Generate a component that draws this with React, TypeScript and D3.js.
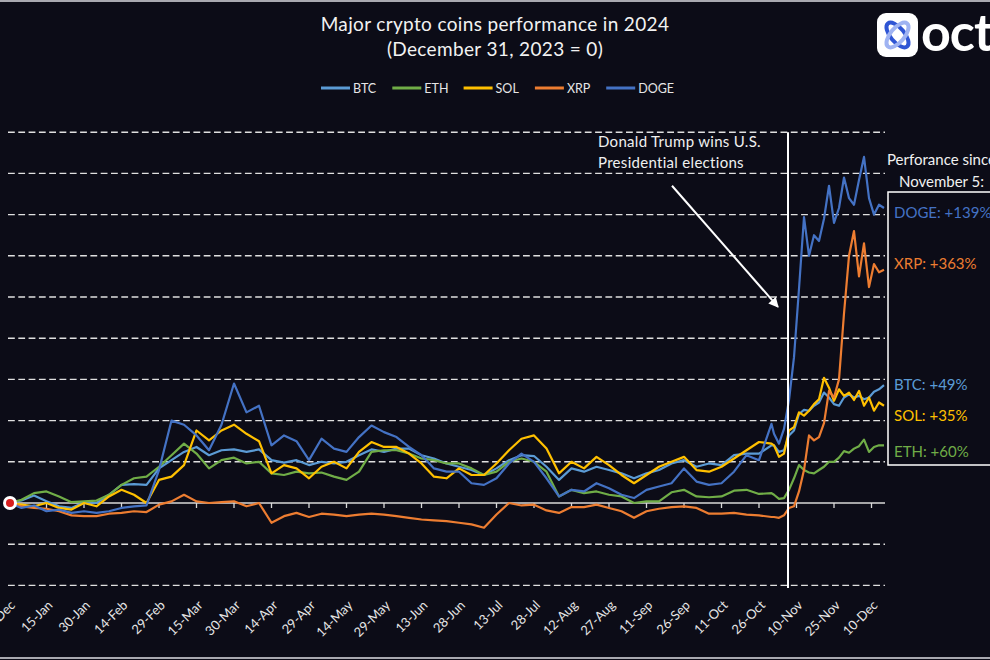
import React from "react";
import * as d3 from "d3";

const W = 990;
const H = 660;
const BG = "#0c0c17";
const FONT = "Lato, 'Open Sans', 'DejaVu Sans', sans-serif";

// day offsets from December 31, 2023
const dayOffsets = [
  0, 5, 10, 15, 20, 25, 30, 35, 40, 45, 50, 55, 60, 65, 70, 75, 80, 85, 90, 95,
  100, 105, 110, 115, 120, 125, 130, 135, 140, 145, 150, 155, 160, 165, 170, 175, 180, 185, 190, 195,
  200, 205, 210, 215, 220, 225, 230, 235, 240, 245, 250, 255, 260, 265, 270, 275, 280, 285, 290, 295,
  300, 305,
  306, 308, 310, 312, 314, 316, 318, 320, 322, 324, 326, 328, 330, 332, 334, 336, 338, 340, 342, 344,
  346, 348, 350,
];

// performance in % vs Dec 31, 2023
const btc = [
  0, 3, 9, 2, -4, -6, 1, 0, 10, 22, 23, 22, 42, 52, 62, 68, 58, 64, 65, 62,
  65, 52, 49, 52, 46, 50, 48, 50, 58, 65, 62, 66, 66, 58, 54, 48, 44, 40, 34, 42,
  52, 58, 57, 44, 28, 42, 38, 44, 40, 36, 30, 36, 40, 48, 52, 44, 48, 46, 58, 60,
  60, 70,
  70, 62, 64, 82, 88, 108, 113, 112, 118, 122, 134, 128, 120, 118, 128, 132, 128, 130, 126, 128,
  135, 138, 143,
];
const eth = [
  0, 4, 12, 14, 8, 1, 2, 3, 10, 22, 30, 32, 44, 58, 72, 60, 42, 52, 55, 48,
  50, 36, 34, 38, 36, 37, 32, 28, 38, 62, 64, 64, 60, 54, 52, 48, 48, 42, 34, 38,
  50, 54, 50, 38, 8, 16, 12, 14, 10, 8, 0, 2, 2, 13, 16, 8, 7, 8, 15, 16,
  11, 12,
  10, 5, 6, 16, 30, 46, 40, 37, 36, 40, 44, 50, 50, 55, 63, 61, 66, 69, 77, 62,
  68, 70, 70,
];
const sol = [
  0, -2, -4, 0, -6, -8, 0, -4, 8, 16, 10, 0, 28, 32, 46, 88, 76, 88, 95, 84,
  75, 36, 46, 42, 30, 44, 50, 42, 62, 74, 68, 68, 60, 48, 32, 30, 42, 34, 34, 48,
  64, 78, 82, 66, 36, 50, 42, 56, 46, 34, 24, 34, 44, 50, 56, 40, 38, 44, 54, 64,
  74, 72,
  70, 56, 60, 88, 92, 110, 106, 112, 120, 126, 152, 140, 124, 138, 130, 134, 125, 136, 118, 128,
  112, 122, 118,
];
const xrp = [
  0, -4, -6, -7, -10, -15, -16, -16, -13, -12, -10, -11, -2, 2, 10, 2, 0, 1, 2, -4,
  0, -24, -16, -12, -17, -13, -14, -16, -14, -13, -14, -16, -18, -20, -21, -22, -24, -26, -30, -14,
  0, -3, -2, -9, -12, -5, -5, -2, -6, -10, -18, -10, -7, -5, -4, -6, -13, -13, -12, -14,
  -15, -17,
  -17, -18, -15, -6, -4, 14, 40, 82, 76, 80, 97, 136, 128, 150, 230, 300, 330, 275, 315, 262,
  290, 280, 283,
];
const doge = [
  0, -6, -3, -10, -8, -12, -10, -12, -10, -6, -4, -3, 40, 100, 95, 82, 64, 95, 145, 110,
  118, 70, 82, 75, 52, 78, 66, 62, 80, 94, 86, 80, 68, 58, 42, 38, 38, 24, 22, 30,
  48, 60, 50, 30, 8, 16, 14, 24, 18, 10, 6, 16, 20, 24, 42, 26, 22, 24, 38, 58,
  52, 96,
  84, 72, 90, 125, 177, 260, 347, 300, 325, 318, 345, 385, 340, 358, 395, 370, 362, 392, 420, 370,
  350, 362, 358,
];

const seriesNames = ["BTC", "ETH", "SOL", "XRP", "DOGE"];
const seriesColors = ["#5b9bd5", "#70ad47", "#ffc000", "#ed7d31", "#4472c4"];
const seriesValues = [btc, eth, sol, xrp, doge];

const tickLabels = [
  "31-Dec", "15-Jan", "30-Jan", "14-Feb", "29-Feb", "15-Mar", "30-Mar", "14-Apr",
  "29-Apr", "14-May", "29-May", "13-Jun", "28-Jun", "13-Jul", "28-Jul", "12-Aug",
  "27-Aug", "11-Sep", "26-Sep", "11-Oct", "26-Oct", "10-Nov", "25-Nov", "10-Dec",
];
const tickStepDays = 15;
const gridValues = [-100, -50, 50, 100, 150, 200, 250, 300, 350, 400, 450];

const eventDay = 311.6;
const sinceNames = ["DOGE", "XRP", "BTC", "SOL", "ETH"];
const sinceTexts = ["DOGE: +139%", "XRP: +363%", "BTC: +49%", "SOL: +35%", "ETH: +60%"];
const sinceLevels = [352, 290, 143, 106, 62];

export default function App() {
  const x = d3.scaleLinear().domain([0, 350]).range([9, 884]);
  const y = d3.scaleLinear().domain([-100, 450]).range([585.4, 132.2]);
  const line = d3
    .line<number>()
    .x((_, i) => x(dayOffsets[i]))
    .y((v) => y(v));

  const xEvent = x(eventDay);
  const arrowTip = { x: xEvent - 10, y: y(238) };
  const arrowStart = { x: xEvent - 116, y: y(385) };

  const legendStart = 321;
  const legendStep = 71.3;

  return (
    <svg
      width={W}
      height={H}
      style={{ position: "fixed", left: 0, top: 0, display: "block" }}
      fontFamily={FONT}
    >
      <defs>
        <marker id="arr" viewBox="0 0 10 10" refX="9" refY="5" markerWidth="5" markerHeight="5" orient="auto">
          <path d="M0,0 L10,5 L0,10 z" fill="#ffffff" />
        </marker>
      </defs>
      <rect x={0} y={0} width={W} height={H} fill={BG} />
      <line x1={0} x2={W} y1={1} y2={1} stroke="#a9a9b0" strokeWidth={2} />
      <line x1={0} x2={W} y1={658} y2={658} stroke="#a9a9b0" strokeWidth={2} />

      {/* title */}
      <text x={495} y={31} textAnchor="middle" fill="#f2f2f2" fontSize={19} letterSpacing={0.35}>
        Major crypto coins performance in 2024
      </text>
      <text x={495} y={56} textAnchor="middle" fill="#f2f2f2" fontSize={19} letterSpacing={0.35}>
        (December 31, 2023 = 0)
      </text>

      {/* legend */}
      {seriesNames.map((n, i) => {
        const lx = legendStart + i * legendStep;
        return (
          <g key={n}>
            <line x1={lx} x2={lx + 29} y1={88} y2={88} stroke={seriesColors[i]} strokeWidth={3} />
            <text x={lx + 32} y={92.5} fill="#e6e6e6" fontSize={12.5}>
              {n}
            </text>
          </g>
        );
      })}

      {/* logo */}
      <rect x={877} y={13} width={41} height={44} rx={9} fill="#ffffff" />
      <ellipse cx={897.5} cy={35} rx={7} ry={15} transform="rotate(-40 897.5 35)" stroke="#2f55d4" strokeWidth={4} fill="none" />
      <ellipse cx={897.5} cy={35} rx={7} ry={15} transform="rotate(40 897.5 35)" stroke="#9fb3f2" strokeWidth={4} fill="none" />
      <text x={921} y={51} fill="#ffffff" fontSize={52} fontWeight={700} letterSpacing={-1} fontFamily="Lato, sans-serif">
        octa
      </text>

      {/* grid */}
      {gridValues.map((g) => (
        <line
          key={g}
          x1={8}
          x2={885}
          y1={y(g)}
          y2={y(g)}
          stroke="#e0e0e0"
          strokeWidth={1.4}
          strokeDasharray="6.8,3.5"
        />
      ))}

      {/* x axis */}
      <line x1={8} x2={885} y1={y(0)} y2={y(0)} stroke="#d9d9d9" strokeWidth={1.5} />
      {tickLabels.map((t, i) => {
        const tx = x(i * tickStepDays);
        return (
          <g key={t}>
            <line x1={tx} x2={tx} y1={y(0)} y2={y(0) + 5} stroke="#d9d9d9" strokeWidth={1.3} />
            <text
              transform={`translate(${tx + 7},606) rotate(-45)`}
              textAnchor="end"
              fill="#e6e6e6"
              fontSize={13}
            >
              {t}
            </text>
          </g>
        );
      })}

      {/* series */}
      {seriesValues.map((vals, i) => (
        <path
          key={seriesNames[i]}
          d={line(vals) || ""}
          fill="none"
          stroke={seriesColors[i]}
          strokeWidth={2.2}
          strokeLinejoin="round"
        />
      ))}

      {/* origin marker */}
      <circle cx={x(0) + 1} cy={y(0)} r={7} fill="#ffffff" />
      <circle cx={x(0) + 1} cy={y(0)} r={4} fill="#d81e1e" />

      {/* event line */}
      <line x1={xEvent} x2={xEvent} y1={y(450)} y2={588} stroke="#ffffff" strokeWidth={2} />

      {/* annotation */}
      <text x={xEvent - 190} y={147} fill="#f0f0f0" fontSize={15} letterSpacing={0.3}>
        Donald Trump wins U.S.
      </text>
      <text x={xEvent - 190} y={168} fill="#f0f0f0" fontSize={15} letterSpacing={0.3}>
        Presidential elections
      </text>
      <line
        x1={arrowStart.x}
        y1={arrowStart.y}
        x2={arrowTip.x}
        y2={arrowTip.y}
        stroke="#ffffff"
        strokeWidth={2}
        markerEnd="url(#arr)"
      />

      {/* performance since Nov 5 */}
      <text x={887} y={165} fill="#f0f0f0" fontSize={15}>
        Perforance since
      </text>
      <text x={899} y={187} fill="#f0f0f0" fontSize={15}>
        November 5:
      </text>
      <rect x={888} y={192} width={120} height={273} fill="none" stroke="#ffffff" strokeWidth={1.5} />
      {sinceTexts.map((t, i) => (
        <text
          key={t}
          x={894}
          y={y(sinceLevels[i]) + 5}
          fill={seriesColors[seriesNames.indexOf(sinceNames[i])]}
          fontSize={15}
        >
          {t}
        </text>
      ))}
    </svg>
  );
}
